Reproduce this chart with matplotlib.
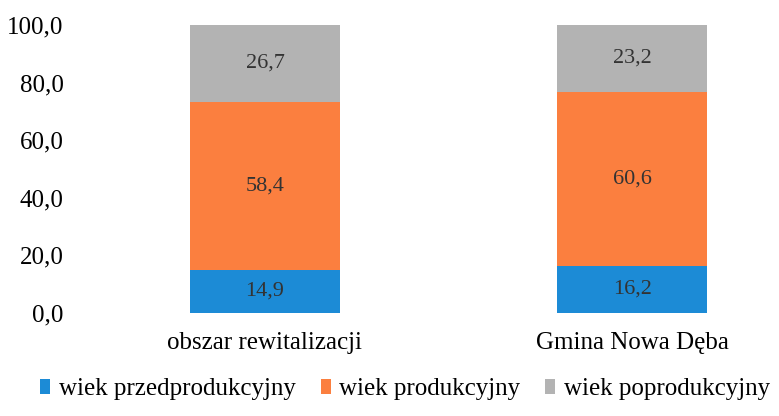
import matplotlib.pyplot as plt
import numpy as np

plt.rcParams['font.family'] = ['Liberation Serif', 'DejaVu Serif']

# data (percent of population)
categories = ['obszar rewitalizacji', 'Gmina Nowa Dęba']
series_names = ['wiek przedprodukcyjny', 'wiek produkcyjny', 'wiek poprodukcyjny']
przedprodukcyjny = [14.9, 16.2]
produkcyjny = [58.4, 60.6]
poprodukcyjny = [26.7, 23.2]
y_ticks = [0, 20, 40, 60, 80, 100]

colors = ['#1c8bd6', '#fb7f3f', '#b3b3b3']

fig = plt.figure(figsize=(7.79, 4.16), dpi=100)
ax = fig.add_axes([0.096, 0.248, 0.904, 0.692])

x = np.arange(len(categories))
width = 0.41
bottom = np.zeros(len(categories))
for name, vals, col in zip(series_names, [przedprodukcyjny, produkcyjny, poprodukcyjny], colors):
    bars = ax.bar(x, vals, width, bottom=bottom, color=col, label=name)
    for b, v, b0 in zip(bars, vals, bottom):
        ax.text(b.get_x() + b.get_width() / 2, b0 + v / 2,
                f'{v:.1f}'.replace('.', ','), ha='center', va='center',
                fontsize=16, color='#333333')
    bottom += np.array(vals)

ax.set_ylim(0, 100)
ax.set_xlim(-0.518, 1.40)
ax.set_yticks(y_ticks)
ax.set_yticklabels([f'{t:.1f}'.replace('.', ',') for t in y_ticks], fontsize=18)
ax.set_xticks(x)
ax.set_xticklabels(categories, fontsize=18)
ax.tick_params(length=0)
ax.tick_params(axis='x', pad=14)
ax.tick_params(axis='y', pad=8)
for s in ax.spines.values():
    s.set_visible(False)

ax.legend(loc='center', bbox_to_anchor=(0.52, 0.065), bbox_transform=fig.transFigure,
          ncol=3, frameon=False, fontsize=18, handlelength=0.4, handleheight=0.55,
          handletextpad=0.35, columnspacing=1.0)

fig.savefig('out.png', dpi=100)
